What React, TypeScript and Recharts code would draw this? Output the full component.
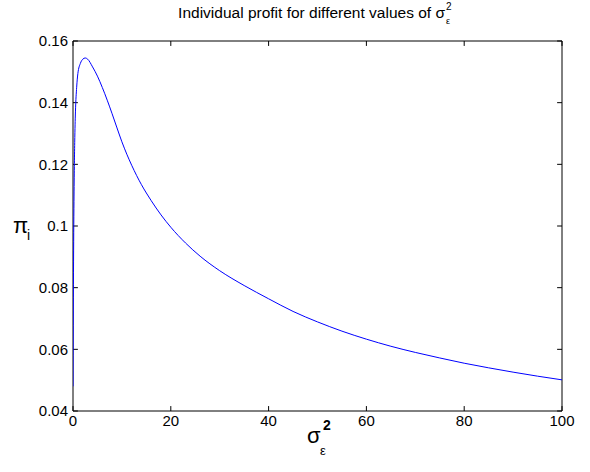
import React from 'react';
import { LineChart, Line, XAxis, YAxis, Customized, ReferenceArea, ReferenceLine } from 'recharts';

// sigma_eps^2 values and the individual profit
const sigmaSq = [0, 0.1, 0.2, 0.35, 0.5, 0.75, 1, 1.5, 2, 2.5, 3, 4, 5, 6, 7, 8, 9, 10, 11, 12, 13, 14, 15, 16, 18, 20, 23, 26, 30, 35, 40, 45, 50, 55, 60, 65, 70, 75, 80, 85, 90, 95, 100];
const profit = [0.048, 0.085, 0.108, 0.127, 0.137, 0.145, 0.1495, 0.1527, 0.1541, 0.1545, 0.1541, 0.1516, 0.1486, 0.1449, 0.1408, 0.1364, 0.1318, 0.1273, 0.1233, 0.1197, 0.1164, 0.1134, 0.1107, 0.1082, 0.1036, 0.0996, 0.0945, 0.0902, 0.0855, 0.0807, 0.0764, 0.0723, 0.0689, 0.0659, 0.0633, 0.061, 0.059, 0.0572, 0.0555, 0.054, 0.0526, 0.0513, 0.0501];

const xTicks = [0, 20, 40, 60, 80, 100];
const yTicks = [0.04, 0.06, 0.08, 0.1, 0.12, 0.14, 0.16];

const data = sigmaSq.map((s, i) => ({ s, p: profit[i] }));

const font = 'Liberation Sans, Arial, Helvetica, sans-serif';
const tickStyle = { fill: '#000', fontSize: 15, fontFamily: font };

// inward tick marks, matlab style (lengths in data units ~5px)
const xLen = 1;
const yLen = 0.0016;

const Labels = () => (
  <g fontFamily={font} fill="#000">
    <text x={445} y={18} fontSize={15.5} textAnchor="end">Individual profit for different values of σ</text>
    <text x={446} y={10} fontSize={10}>2</text>
    <text x={446} y={24} fontSize={9}>ε</text>

    <text x={13} y={233} fontSize={22}>π</text>
    <text x={27} y={240} fontSize={14}>i</text>

    <text x={307} y={443} fontSize={22}>σ</text>
    <text x={323} y={430} fontSize={14} fontWeight="bold">2</text>
    <text x={320} y={455} fontSize={13}>ε</text>
  </g>
);

export default function App() {
  return (
    <div style={{ position: 'absolute', left: 0, top: 0, width: 590, height: 472, background: '#fff' }}>
      <LineChart width={590} height={472} data={data} margin={{ top: 41, right: 28, bottom: 0, left: 0 }}>
        <XAxis
          dataKey="s"
          type="number"
          domain={[0, 100]}
          ticks={xTicks}
          height={61}
          axisLine={false}
          tickLine={false}
          tick={tickStyle}
          tickSize={0}
          tickMargin={4}
          allowDataOverflow
        />
        <YAxis
          type="number"
          domain={[0.04, 0.16]}
          ticks={yTicks}
          width={73}
          axisLine={false}
          tickLine={false}
          tick={tickStyle}
          tickSize={0}
          tickMargin={5}
          tickFormatter={(v: number) => String(v)}
          allowDataOverflow
        />
        {xTicks.map((t) => (
          <ReferenceLine key={'xb' + t} segment={[{ x: t, y: 0.04 }, { x: t, y: 0.04 + yLen }]} stroke="#000" />
        ))}
        {xTicks.map((t) => (
          <ReferenceLine key={'xt' + t} segment={[{ x: t, y: 0.16 }, { x: t, y: 0.16 - yLen }]} stroke="#000" />
        ))}
        {yTicks.map((t) => (
          <ReferenceLine key={'yl' + t} segment={[{ x: 0, y: t }, { x: xLen, y: t }]} stroke="#000" />
        ))}
        {yTicks.map((t) => (
          <ReferenceLine key={'yr' + t} segment={[{ x: 100, y: t }, { x: 100 - xLen, y: t }]} stroke="#000" />
        ))}
        <Line type="monotone" dataKey="p" stroke="#0000ff" strokeWidth={1} dot={false} isAnimationActive={false} />
        <ReferenceArea x1={0} x2={100} y1={0.04} y2={0.16} fill="none" fillOpacity={0} stroke="#000" strokeWidth={1} />
        <Customized component={Labels} />
      </LineChart>
    </div>
  );
}
